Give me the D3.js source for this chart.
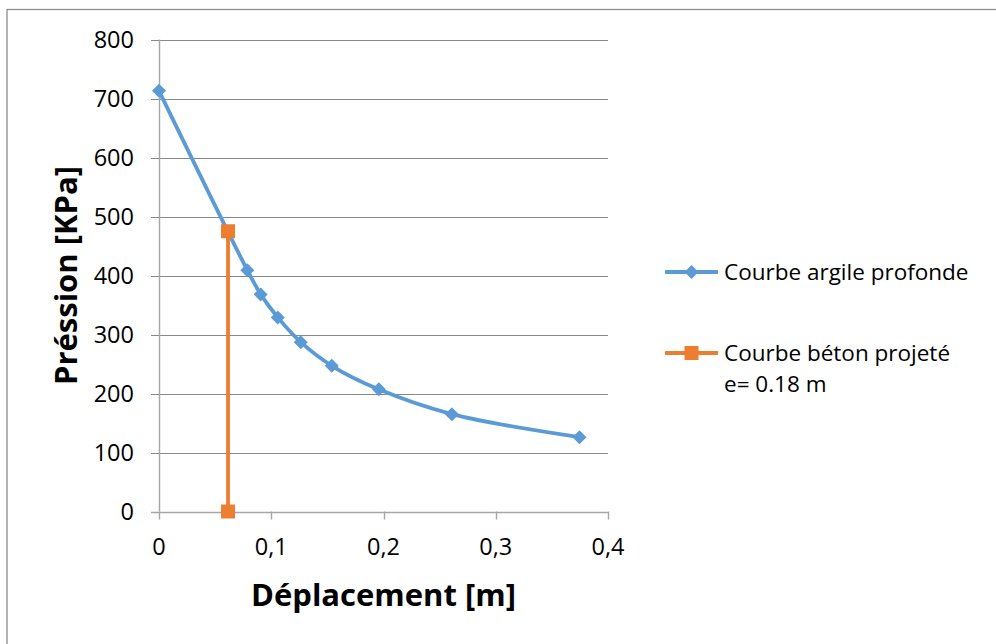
<!DOCTYPE html>
<html>
<head>
<meta charset="utf-8">
<script src="https://cdn.jsdelivr.net/npm/d3@7"></script>
<style>
  body { margin: 0; background: #fff; }
  svg { display: block; font-family: "Open Sans", sans-serif; }
  .tick-label { font-size: 23.5px; fill: #000; }
  .axis-title { font-size: 31px; font-weight: bold; fill: #000; }
  .legend-text { font-size: 22.5px; fill: #000; }
</style>
</head>
<body>
<svg id="chart" width="996" height="644"></svg>
<script>
// Data
const argileX = [0, 0.0787, 0.0906, 0.1058, 0.1263, 0.1539, 0.1958, 0.2609, 0.3746];
const argileY = [713, 409, 368, 329, 287, 247, 207, 165, 126];
const betonX = [0.0615, 0.0615];
const betonY = [475, 0];
const xTicks = [0, 0.1, 0.2, 0.3, 0.4];
const yTicks = [0, 100, 200, 300, 400, 500, 600, 700, 800];
const seriesNames = ['Courbe argile profonde', 'Courbe béton projeté', 'e= 0.18 m'];

const BLUE = '#5B9BD5', ORANGE = '#ED7D31';
const m = { left: 159, right: 608, top: 39.5, bottom: 511.5 };

const svg = d3.select('#chart');

// outer frame (runs off the right and bottom edges)
svg.append('rect')
  .attr('x', 7).attr('y', 9.5).attr('width', 1100).attr('height', 800)
  .attr('fill', 'none').attr('stroke', '#8c8c8c').attr('stroke-width', 1.3);

const x = d3.scaleLinear().domain([0, 0.4]).range([m.left, m.right]);
const y = d3.scaleLinear().domain([0, 800]).range([m.bottom, m.top]);

const fmt = v => v === 0 ? '0' : String(v).replace('.', ',');

// gridlines
svg.append('g').selectAll('line')
  .data(yTicks.filter(v => v > 0))
  .join('line')
  .attr('x1', x(0) - 8).attr('x2', x(0.4))
  .attr('y1', d => Math.round(y(d)) + 0.5).attr('y2', d => Math.round(y(d)) + 0.5)
  .attr('stroke', '#888').attr('stroke-width', 1.2);

// axes lines
svg.append('line')
  .attr('x1', Math.round(x(0)) + 0.5).attr('x2', Math.round(x(0)) + 0.5)
  .attr('y1', y(800)).attr('y2', y(0))
  .attr('stroke', '#a6a6a6').attr('stroke-width', 1.4);
svg.append('line')
  .attr('x1', x(0) - 8).attr('x2', x(0.4))
  .attr('y1', Math.round(y(0)) + 0.5).attr('y2', Math.round(y(0)) + 0.5)
  .attr('stroke', '#a6a6a6').attr('stroke-width', 1.4);

// x ticks
svg.append('g').selectAll('line')
  .data(xTicks)
  .join('line')
  .attr('x1', d => Math.round(x(d)) + 0.5).attr('x2', d => Math.round(x(d)) + 0.5)
  .attr('y1', y(0)).attr('y2', y(0) + 8)
  .attr('stroke', '#a6a6a6').attr('stroke-width', 1.4);

svg.append('g').selectAll('text')
  .data(xTicks)
  .join('text')
  .classed('tick-label', true)
  .attr('x', d => x(d)).attr('y', 555)
  .attr('text-anchor', 'middle')
  .text(fmt);

svg.append('g').selectAll('text')
  .data(yTicks)
  .join('text')
  .classed('tick-label', true)
  .attr('x', 134).attr('y', d => y(d) + 8.5)
  .attr('text-anchor', 'end')
  .text(fmt);

// axis titles
svg.append('text').classed('axis-title', true)
  .attr('x', (m.left + m.right) / 2).attr('y', 606)
  .attr('text-anchor', 'middle')
  .text('Déplacement [m]');

svg.append('text').classed('axis-title', true)
  .attr('transform', `translate(77,${(m.top + m.bottom) / 2}) rotate(-90)`)
  .attr('text-anchor', 'middle')
  .text('Préssion [KPa]');

// series
const argile = argileX.map((v, i) => [v, argileY[i]]);
const beton = betonX.map((v, i) => [v, betonY[i]]);

const line = d3.line().x(d => x(d[0])).y(d => y(d[1]));

svg.append('path')
  .attr('d', line.curve(d3.curveCatmullRom.alpha(0.5))(argile))
  .attr('fill', 'none').attr('stroke', BLUE).attr('stroke-width', 3.8);

const diamond = (cx, cy, r) => `M${cx},${cy - r}L${cx + r},${cy}L${cx},${cy + r}L${cx - r},${cy}Z`;

svg.append('g').selectAll('path')
  .data(argile)
  .join('path')
  .attr('d', d => diamond(x(d[0]), y(d[1]), 7))
  .attr('fill', BLUE);

svg.append('path')
  .attr('d', d3.line().x(d => x(d[0])).y(d => y(d[1]))(beton))
  .attr('fill', 'none').attr('stroke', ORANGE).attr('stroke-width', 3.8);

svg.append('g').selectAll('rect')
  .data(beton)
  .join('rect')
  .attr('x', d => x(d[0]) - 7).attr('y', d => y(d[1]) - 7)
  .attr('width', 14).attr('height', 14)
  .attr('fill', ORANGE);

// legend
const lg = svg.append('g');
lg.append('line').attr('x1', 665).attr('x2', 718).attr('y1', 272).attr('y2', 272)
  .attr('stroke', BLUE).attr('stroke-width', 3.8);
lg.append('path').attr('d', diamond(691.5, 272, 7)).attr('fill', BLUE);
lg.append('text').classed('legend-text', true).attr('x', 724).attr('y', 280).text(seriesNames[0]);

lg.append('line').attr('x1', 665).attr('x2', 718).attr('y1', 353).attr('y2', 353)
  .attr('stroke', ORANGE).attr('stroke-width', 3.8);
lg.append('rect').attr('x', 684.5).attr('y', 346).attr('width', 14).attr('height', 14).attr('fill', ORANGE);
lg.append('text').classed('legend-text', true).attr('x', 724).attr('y', 361).text(seriesNames[1]);
lg.append('text').classed('legend-text', true).attr('x', 724).attr('y', 392).text(seriesNames[2]);
</script>
</body>
</html>
